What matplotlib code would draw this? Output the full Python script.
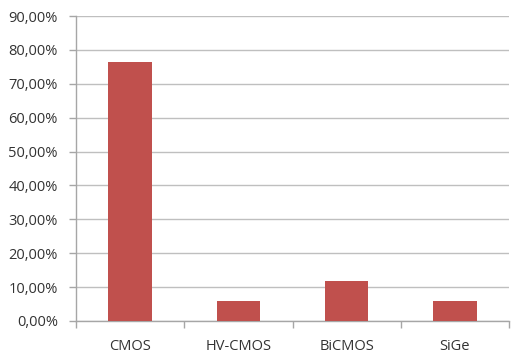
import matplotlib
matplotlib.use("Agg")
import matplotlib.pyplot as plt
from matplotlib.ticker import FuncFormatter, FixedLocator

categories = ["CMOS", "HV-CMOS", "BiCMOS", "SiGe"]
shares = [76.47, 5.88, 11.76, 5.88]  # percent
y_ticks = [0, 10, 20, 30, 40, 50, 60, 70, 80, 90]

fig = plt.figure(figsize=(5.11, 3.54), dpi=100)
ax = fig.add_axes([76 / 511, 1 - 321 / 354, (509 - 76) / 511, (321 - 16) / 354])

x = list(range(len(categories)))
ax.bar(x, shares, width=0.4, color="#C0504D", zorder=3)

ax.set_xlim(-0.5, len(categories) - 0.5)
ax.set_ylim(0, 90)
ax.set_yticks(y_ticks)
ax.yaxis.set_major_formatter(FuncFormatter(lambda v, p: f"{v:.2f}%".replace(".", ",")))
ax.grid(axis="y", color="#BFBFBF", linewidth=1.0, zorder=0)

ax.set_xticks(x)
ax.set_xticklabels(categories)
ax.xaxis.set_minor_locator(FixedLocator([i - 0.5 for i in range(len(categories) + 1)]))
ax.tick_params(axis="x", which="major", length=0, pad=13, labelsize=10.5, labelcolor="#333333")
ax.tick_params(axis="x", which="minor", length=5, color="#A6A6A6", width=1)
ax.tick_params(axis="y", length=5, color="#A6A6A6", width=1, pad=8, labelsize=10.5, labelcolor="#333333")

for side in ["top", "right"]:
    ax.spines[side].set_visible(False)
for side in ["left", "bottom"]:
    ax.spines[side].set_color("#A6A6A6")
    ax.spines[side].set_linewidth(1.0)

for lab in ax.get_xticklabels() + ax.get_yticklabels():
    lab.set_family(["Open Sans", "DejaVu Sans"])

fig.savefig("out.png", dpi=100)
